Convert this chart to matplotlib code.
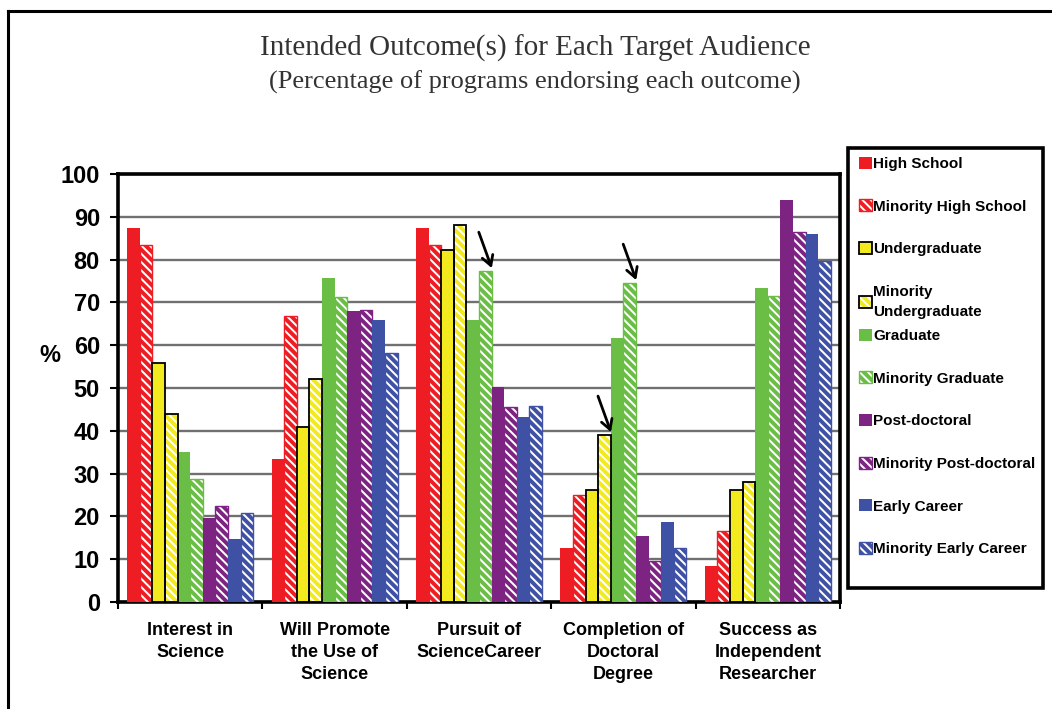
import matplotlib
matplotlib.use('Agg')
import matplotlib.pyplot as plt
from matplotlib.lines import Line2D
from matplotlib.patches import Rectangle
from matplotlib.legend_handler import HandlerTuple
import numpy as np

# ---------------- data ----------------
categories = ["Interest in\nScience", "Will Promote\nthe Use of\nScience",
              "Pursuit of\nScienceCareer", "Completion of\nDoctoral\nDegree",
              "Success as\nIndependent\nResearcher"]
series_names = ["High School", "Minority High School", "Undergraduate",
                "Minority\nUndergraduate", "Graduate", "Minority Graduate",
                "Post-doctoral", "Minority Post-doctoral", "Early Career",
                "Minority Early Career"]

high_school            = [87.5, 33.3, 87.5, 12.7,  8.3]
minority_high_school   = [83.5, 66.9, 83.5, 25.0, 16.7]
undergraduate          = [55.9, 40.9, 82.3, 26.1, 26.1]
minority_undergraduate = [44.0, 52.0, 88.2, 39.1, 28.0]
graduate               = [35.0, 75.6, 65.8, 61.7, 73.4]
minority_graduate      = [28.8, 71.3, 77.4, 74.6, 71.4]
post_doctoral          = [19.7, 67.9, 50.2, 15.4, 94.0]
minority_post_doctoral = [22.4, 68.3, 45.5,  9.6, 86.4]
early_career           = [14.8, 65.8, 43.3, 18.7, 86.0]
minority_early_career  = [20.9, 58.2, 45.8, 12.7, 79.6]

y_ticks = list(range(0, 101, 10))

# arrows: (category index, series index)
arrow_targets = [(2, 5), (3, 5), (3, 3)]

title = "Intended Outcome(s) for Each Target Audience"
subtitle = "(Percentage of programs endorsing each outcome)"

# ---------------- style ----------------
series_values = [high_school, minority_high_school, undergraduate,
                 minority_undergraduate, graduate, minority_graduate,
                 post_doctoral, minority_post_doctoral, early_career,
                 minority_early_career]
RED, YEL, GRN, PUR, BLU = "#EE1D23", "#F2EA1E", "#6ABD45", "#7D2483", "#3F51A4"
colors = [RED, RED, YEL, YEL, GRN, GRN, PUR, PUR, BLU, BLU]
hatched = [False, True] * 5
black_edge = [False, False, True, True, False, False, False, False, False, False]

plt.rcParams['hatch.linewidth'] = 2.8
sans = ['Liberation Sans', 'DejaVu Sans']

W, H = 1052, 709
fig = plt.figure(figsize=(W / 100, H / 100), dpi=100)
ax = fig.add_axes([118 / W, 1 - 602 / H, (840 - 118) / W, (602 - 174) / H])

n = len(series_values)
w = 0.0873
x = np.arange(len(categories))
handles = []
for j, vals in enumerate(series_values):
    pos = x + (j - (n - 1) / 2) * w
    c = colors[j]
    if hatched[j]:
        b = ax.bar(pos, vals, w, facecolor='white', edgecolor=c, hatch='\\\\\\\\',
                   linewidth=0 if black_edge[j] else 1.0, zorder=3)
    else:
        b = ax.bar(pos, vals, w, facecolor=c, edgecolor=c, linewidth=0, zorder=3)
    if black_edge[j]:
        o = ax.bar(pos, vals, w, fill=False, edgecolor='black', linewidth=1.3, zorder=4)
        handles.append((b.patches[0], o.patches[0]))
    else:
        handles.append(b.patches[0])

# arrows
for (ci, sj) in arrow_targets:
    bx = ci + (sj - (n - 1) / 2) * w
    v = series_values[sj][ci]
    ax.annotate("", xy=(bx + 0.045, v + 0.6), xytext=(bx - 0.045, v + 9.0),
                arrowprops=dict(arrowstyle='->,head_length=0.7,head_width=0.4',
                                color='black', lw=2.0, shrinkA=0, shrinkB=0),
                zorder=6)

ax.set_xlim(-0.5, len(categories) - 0.5)
ax.set_ylim(0, 100)
ax.set_yticks(y_ticks)
ax.set_yticklabels([str(t) for t in y_ticks], fontfamily=sans, fontweight='bold',
                   fontsize=17)
ax.set_xticks(x)
ax.set_xticklabels(categories, fontfamily=sans, fontweight='bold', fontsize=13,
                   linespacing=1.37, va='top')
ax.set_xticks(np.arange(-0.5, len(categories), 1.0), minor=True)
ax.tick_params(axis='x', which='major', length=0, pad=14.5)
ax.tick_params(axis='x', which='minor', length=5, width=1.5, direction='out')
ax.tick_params(axis='y', length=6, width=1.5, direction='out', pad=7)
ax.grid(axis='y', color='#707070', linewidth=1.7, zorder=0)
ax.set_axisbelow(True)
for s in ax.spines.values():
    s.set_linewidth(2.6)
    s.set_color('black')

fig.text(50 / W, 1 - 356 / H, "%", fontfamily=sans, fontweight='bold', fontsize=17,
         ha='center', va='center')

fig.text(535 / W, 1 - 48 / H, title, fontfamily=['Liberation Serif', 'DejaVu Serif'],
         fontsize=21, color='#333333', ha='center', va='center')
fig.text(535 / W, 1 - 82 / H, subtitle, fontfamily=['Liberation Serif', 'DejaVu Serif'],
         fontsize=19, color='#333333', ha='center', va='center')

# legend (two stacked pieces to reproduce the original entry spacing)
leg_kw = dict(loc='upper left', frameon=False, borderpad=0, handlelength=0.85,
              handleheight=0.85, handletextpad=0.1, labelspacing=1.85,
              prop={'family': sans, 'weight': 'bold', 'size': 11},
              handler_map={tuple: HandlerTuple(ndivide=1, pad=0)})
leg1 = fig.legend(handles[:4], series_names[:4], bbox_to_anchor=(851 / W, 1 - 149 / H),
                  **leg_kw)
leg1.get_texts()[3].set_linespacing(1.6)
leg2 = fig.legend(handles[4:], series_names[4:], bbox_to_anchor=(851 / W, 1 - 321 / H),
                  **leg_kw)
fig.add_artist(Rectangle((848 / W, 1 - 588 / H), (1043 - 848) / W, (588 - 148) / H,
                         transform=fig.transFigure, fill=False, edgecolor='black',
                         linewidth=2.6))

# figure border (top and left)
fig.add_artist(Line2D([8 / W, 1.0], [1 - 11 / H, 1 - 11 / H], transform=fig.transFigure,
                      color='black', linewidth=2.2))
fig.add_artist(Line2D([8 / W, 8 / W], [0, 1 - 11 / H], transform=fig.transFigure,
                      color='black', linewidth=2.2))

fig.savefig('out.png', dpi=100, facecolor='white')
